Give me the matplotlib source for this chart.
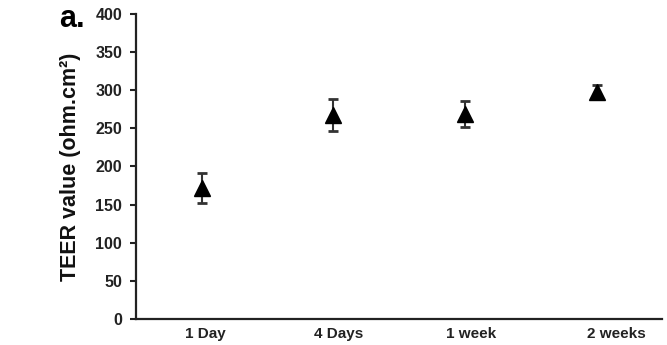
import numpy as np
import matplotlib.pyplot as plt

plt.rcParams['font.family'] = ['Liberation Sans', 'DejaVu Sans']

# TEER measurements over time (mean and error)
timepoints = ['1 Day', '4 Days', '1 week', '2 weeks']
teer_mean = [172, 268, 269, 298]
teer_err = [20, 21, 17, 9]

fig = plt.figure(figsize=(6.67, 3.45), dpi=100)
ax = fig.add_axes([0.204, 0.0754, 0.789, 0.884])

x = np.arange(len(timepoints))
ax.errorbar(x, teer_mean, yerr=teer_err, fmt='none', ecolor='#333333',
            elinewidth=1.5, capsize=3.6, capthick=2, zorder=2)
ax.plot(x, teer_mean, linestyle='none', marker='^', markersize=12,
        color='black', zorder=3)

ax.set_xlim(-0.5, 3.5)
ax.set_ylim(0, 400)
ax.set_yticks(np.arange(0, 401, 50))
# category labels sit slightly right of the markers
label_shift = np.array([0.03, 0.04, 0.05, 0.15])
ax.set_xticks(x + label_shift)
ax.set_xticklabels(timepoints)

for side in ['top', 'right']:
    ax.spines[side].set_visible(False)
for side in ['left', 'bottom']:
    ax.spines[side].set_linewidth(1.6)
    ax.spines[side].set_color('#222222')

ax.tick_params(axis='y', direction='out', length=4, width=1.5, pad=6,
               labelsize=11.5, colors='#222222')
ax.tick_params(axis='x', length=0, pad=6, labelsize=11, colors='#222222')
for lbl in ax.get_xticklabels() + ax.get_yticklabels():
    lbl.set_fontweight('bold')

ax.set_ylabel('TEER value (ohm.cm²)', fontsize=15.5, fontweight='bold',
              color='#111111', labelpad=10)
fig.text(0.088, 0.945, 'a.', fontsize=22, fontweight='bold', ha='left',
         va='center')

fig.savefig('out.png', dpi=100)
